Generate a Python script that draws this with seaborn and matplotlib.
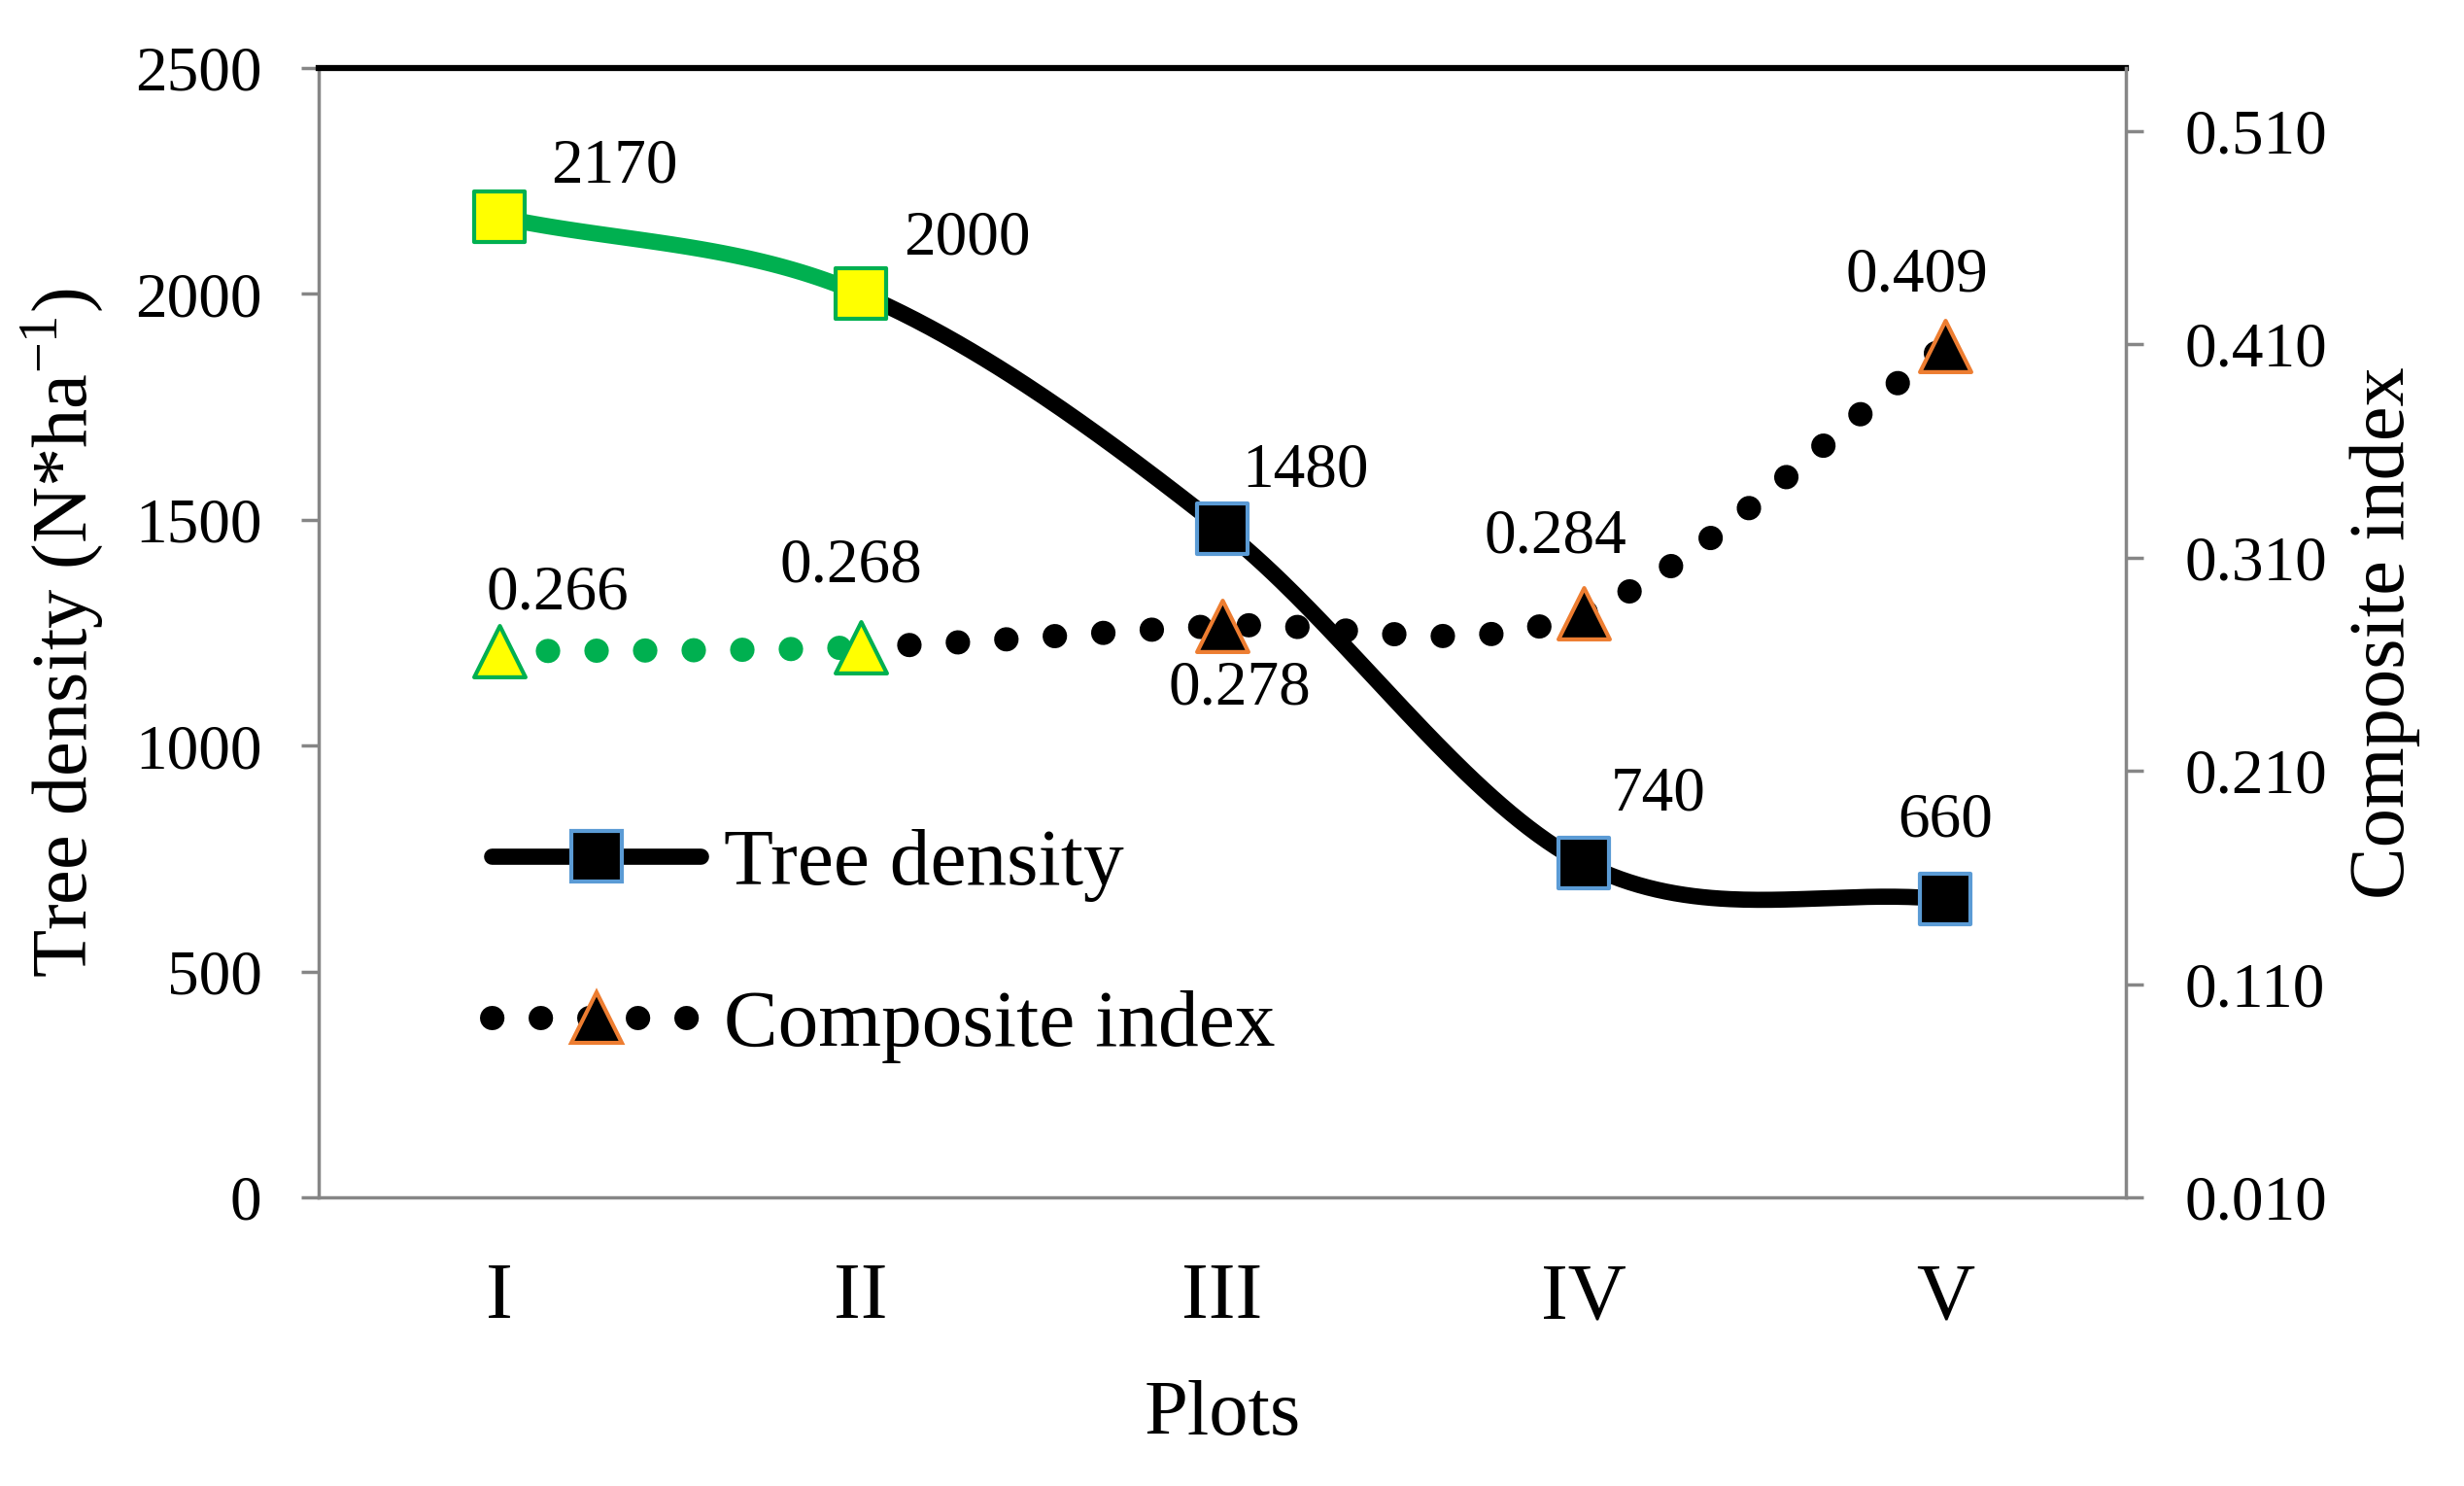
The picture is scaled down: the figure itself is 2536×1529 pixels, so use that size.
import numpy as np
import matplotlib
matplotlib.use("Agg")
import matplotlib.pyplot as plt
import seaborn as sns
from matplotlib.lines import Line2D


# the data
plots = ["I", "II", "III", "IV", "V"]
tree_density = [2170, 2000, 1480, 740, 660]
composite_index = [0.266, 0.268, 0.278, 0.284, 0.409]

# where the value labels sit, offset from the marker (points)
density_offsets = [(85, 37), (79, 41), (62, 43), (55, 51), (0, 58)]
index_offsets = [(43, 43), (-7, 60), (13, -47), (-21, 56), (-21, 52)]

# colours
GREEN = "#00B050"
YELLOW = "#FFFF00"
BLUE = "#5B9BD5"
ORANGE = "#ED7D31"
GREY = "#868686"


sns.set_theme(style="white")
plt.rcParams["font.family"] = ["Liberation Serif", "DejaVu Serif"]
plt.rcParams["mathtext.fontset"] = "custom"
plt.rcParams["mathtext.rm"] = "Liberation Serif"
plt.rcParams["text.color"] = "black"
plt.rcParams["axes.labelcolor"] = "black"


def smooth(y, n=80):
    # Excel-like smoothed line: cubic hermite through the points
    y = np.asarray(y, float)
    m = np.empty(len(y))
    m[1:-1] = (y[2:] - y[:-2]) / 2
    m[0] = y[1] - y[0]
    m[-1] = y[-1] - y[-2]
    t = np.linspace(0, 1, n)
    h00 = 2 * t**3 - 3 * t**2 + 1
    h10 = t**3 - 2 * t**2 + t
    h01 = -2 * t**3 + 3 * t**2
    h11 = t**3 - t**2
    segs = []
    for i in range(len(y) - 1):
        ys = h00 * y[i] + h10 * m[i] + h01 * y[i + 1] + h11 * m[i + 1]
        segs.append((i + t, ys))
    return segs


def join(segs):
    xs = np.concatenate([s[0] for s in segs])
    ys = np.concatenate([s[1] for s in segs])
    return xs, ys


def dotted(a, xs, ys, color):
    sns.lineplot(x=xs, y=ys, ax=a, color=color, lw=18, sort=False,
                 estimator=None)
    ln = a.lines[-1]
    ln.set_linestyle(DOTS)
    ln.set_dash_capstyle("round")


DOTS = (0, (0.01, 1.99))
LW = 12

fig = plt.figure(figsize=(25.36, 15.29), dpi=100)
ax = fig.add_axes([0.1293, 0.1942, 0.7334, 0.760])
ax2 = ax.twinx()

x = np.arange(len(plots))

# tree density, left axis
d_segs = smooth(tree_density)
gx, gy = d_segs[0]
sns.lineplot(x=gx, y=gy, ax=ax, color=GREEN, lw=LW, sort=False,
             estimator=None, solid_capstyle="butt")
bx, by = join(d_segs[1:])
sns.lineplot(x=bx, y=by, ax=ax, color="black", lw=LW, sort=False,
             estimator=None, solid_capstyle="butt")
sns.scatterplot(x=x[:2], y=tree_density[:2], ax=ax, marker="s", s=1444,
                color=YELLOW, edgecolor=GREEN, linewidth=3, zorder=5)
sns.scatterplot(x=x[2:], y=tree_density[2:], ax=ax, marker="s", s=1444,
                color="black", edgecolor=BLUE, linewidth=3, zorder=5)

# composite index, right axis
c_segs = smooth(composite_index)
gx, gy = c_segs[0]
dotted(ax2, gx, gy, GREEN)
bx, by = join(c_segs[1:])
dotted(ax2, bx, by, "black")
sns.scatterplot(x=x[:2], y=composite_index[:2], ax=ax2, marker="^", s=1444,
                color=YELLOW, edgecolor=GREEN, linewidth=3, zorder=5)
sns.scatterplot(x=x[2:], y=composite_index[2:], ax=ax2, marker="^", s=1444,
                color="black", edgecolor=ORANGE, linewidth=3, zorder=5)

# value labels
for i, v in enumerate(tree_density):
    ax.annotate(str(v), (i, v), xytext=density_offsets[i],
                textcoords="offset points", ha="center", va="center",
                fontsize=47)
for i, v in enumerate(composite_index):
    ax2.annotate(f"{v:.3f}", (i, v), xytext=index_offsets[i],
                 textcoords="offset points", ha="center", va="center",
                 fontsize=47)

# axes
ax.set_xlim(-0.5, 4.5)
ax.set_ylim(0, 2500)
ax.set_yticks(np.arange(0, 2501, 500))
ax2.set_ylim(0.010, 0.5395)
ax2.set_yticks(np.arange(0.010, 0.52, 0.1))
ax2.set_yticklabels([f"{v:.3f}" for v in np.arange(0.010, 0.52, 0.1)])

ax.set_xticks(x)
ax.set_xticklabels(plots)
ax.set_xticks(np.arange(-0.5, 5, 1), minor=True)
ax.tick_params(axis="x", which="major", length=0, pad=48, labelsize=60,
               labelcolor="black")
ax.tick_params(axis="x", which="minor", length=16, width=2.5, color=GREY,
               direction="out")
ax.tick_params(axis="y", length=13, width=2.5, color=GREY, pad=29,
               labelsize=47, direction="out", left=True, labelcolor="black")
ax2.tick_params(axis="y", length=13, width=2.5, color=GREY, pad=31,
                labelsize=47, direction="out", right=True, labelcolor="black")

for a in (ax, ax2):
    for s in a.spines.values():
        s.set_visible(False)
ax.spines["left"].set_visible(True)
ax.spines["left"].set_color(GREY)
ax.spines["left"].set_linewidth(2.5)
ax.spines["bottom"].set_visible(True)
ax.spines["bottom"].set_color(GREY)
ax.spines["bottom"].set_linewidth(2.5)
ax.spines["top"].set_visible(True)
ax.spines["top"].set_color("black")
ax.spines["top"].set_linewidth(4.5)
ax2.spines["right"].set_visible(True)
ax2.spines["right"].set_color(GREY)
ax2.spines["right"].set_linewidth(2.5)

ax.set_xlabel("Plots", fontsize=58)
ax.xaxis.set_label_coords(0.5, -0.162)
ax.set_ylabel("Tree density (N*ha$^{\\mathregular{-1}}$)", fontsize=58)
ax.yaxis.set_label_coords(-0.117, 0.5)
ax2.set_ylabel("Composite index", fontsize=58)
ax2.yaxis.set_label_coords(1.124, 0.5)

# legend
handles = [
    Line2D([], [], color="black", lw=LW, solid_capstyle="round",
           marker="s", markersize=38, markerfacecolor="black",
           markeredgecolor=BLUE, markeredgewidth=3),
    Line2D([], [], color="black", lw=18, linestyle=DOTS, dash_capstyle="round",
           marker="^", markersize=38, markerfacecolor="black",
           markeredgecolor=ORANGE, markeredgewidth=3),
]
ax2.legend(handles, ["Tree density", "Composite index"], loc="center left",
           bbox_to_anchor=(0.096, 0.223), frameon=False, fontsize=60,
           handlelength=2.57, handletextpad=0.29, labelspacing=1.08,
           borderpad=0, borderaxespad=0)

fig.savefig("out.png", dpi=100)
